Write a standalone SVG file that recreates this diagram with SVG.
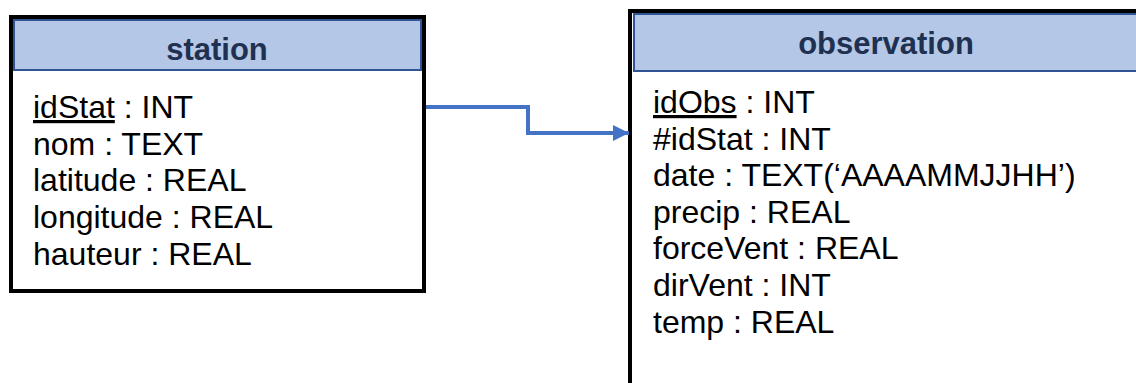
<svg xmlns="http://www.w3.org/2000/svg" width="1136" height="383" viewBox="0 0 1136 383">
<style>
.box{fill:#fff;stroke:#000;stroke-width:4}
.hdr{fill:#b4c7e7;stroke:#2f5597;stroke-width:2}
.title{font-family:"Liberation Sans",Arial,sans-serif;font-weight:bold;font-size:31px;fill:#1f3050;text-anchor:middle}
.attr{font-family:"Liberation Sans",Arial,sans-serif;font-size:32px;fill:#000}
.link{fill:none;stroke:#4472c4;stroke-width:4}
</style>
<defs>
<marker id="arr" viewBox="0 0 10 10" refX="10" refY="5" markerWidth="4.5" markerHeight="4" markerUnits="strokeWidth" orient="auto">
<path d="M0,0 L10,5 L0,10 z" fill="#4472c4"/>
</marker>
</defs>
<rect width="1136" height="383" fill="#fff"/>
<g id="station">
<rect class="box" x="11" y="17" width="413" height="274"/>
<rect class="hdr" x="14" y="20" width="407" height="50"/>
<text class="title" x="217" y="60">station</text>
<text class="attr" x="33" y="118"><tspan text-decoration="underline">idStat</tspan> : INT</text>
<text class="attr" x="33" y="155">nom : TEXT</text>
<text class="attr" x="33" y="191">latitude : REAL</text>
<text class="attr" x="33" y="228">longitude : REAL</text>
<text class="attr" x="33" y="265">hauteur : REAL</text>
</g>
<g id="observation">
<rect class="box" x="630" y="11" width="540" height="400"/>
<rect class="hdr" x="634" y="14" width="520" height="57"/>
<text class="title" x="886" y="54">observation</text>
<text class="attr" x="653" y="113"><tspan text-decoration="underline">idObs</tspan> : INT</text>
<text class="attr" x="653" y="150">#idStat : INT</text>
<text class="attr" x="653" y="186">date : TEXT(‘AAAAMMJJHH’)</text>
<text class="attr" x="653" y="223">precip : REAL</text>
<text class="attr" x="653" y="259">forceVent : REAL</text>
<text class="attr" x="653" y="296">dirVent : INT</text>
<text class="attr" x="653" y="333">temp : REAL</text>
</g>
<g id="connectors">
<path class="link" d="M426,107 H528 V133 H629" marker-end="url(#arr)"/>
</g>
</svg>
